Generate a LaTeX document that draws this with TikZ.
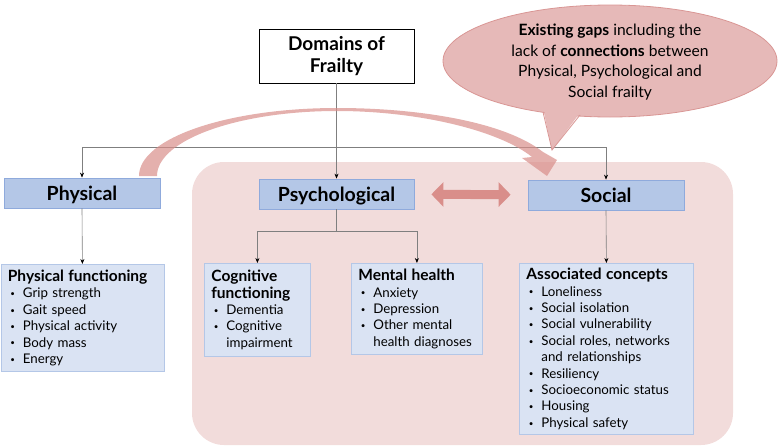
\documentclass[tikz,border=0pt]{standalone}
\usepackage{fontspec}
\setmainfont{Lato}
\usepackage{xcolor}
\usepackage{tikz}
\usetikzlibrary{arrows.meta}
\definecolor{headfill}{HTML}{B4C7E7}
\definecolor{headline}{HTML}{8FAADC}
\definecolor{listfill}{HTML}{DAE3F3}
\definecolor{listline}{HTML}{B4C7E7}
\definecolor{bgpink}{HTML}{F2DCDB}
\definecolor{callfill}{HTML}{E6B9B8}
\definecolor{callline}{HTML}{D99694}
\definecolor{arrowpink}{HTML}{D98E8A}
\definecolor{linkgray}{HTML}{7F7F7F}
\newcommand{\bul}[1]{\mbox{\makebox[15pt][l]{\hspace{2.5pt}\raisebox{1.2pt}{\fontsize{8}{8}\selectfont\textbullet}}#1}}
\newcommand{\cont}[1]{\mbox{\hspace*{15pt}#1}}
\newcommand{\ttl}[1]{{\fontsize{15.5}{18}\selectfont\bfseries #1}}

\begin{document}
\begin{tikzpicture}[x=1pt, y=-1pt, >={Stealth[black, length=5pt, width=4pt]}]
        \tikzstyle{head}=[draw=headline, fill=headfill, line width=0.8pt, minimum width=156pt, minimum height=30pt, text height=14pt, text depth=0pt, font=\fontsize{19.5}{21}\selectfont\bfseries]
        \tikzstyle{list}=[draw=listline, fill=listfill, line width=0.8pt, anchor=north west, align=left, inner xsep=7pt, font=\fontsize{13.3}{16.4}\selectfont]
        \tikzstyle{link}=[draw=linkgray, line width=0.6pt]
        \useasboundingbox (0,0) rectangle (778,447);
        \fill[bgpink, rounded corners=32pt] (192,162) rectangle (733,445);
        \node[draw=black, fill=white, line width=0.9pt, minimum width=155pt, minimum height=54pt, align=center, font=\fontsize{19}{22}\selectfont\bfseries] (dom) at (336.5,56) {Domains of\\Frailty};
        \node[head] (phy) at (82,193) {Physical};
        \node[head, minimum width=155pt] (psy) at (336.5,194) {Psychological};
        \node[head] (soc) at (606,195) {Social};
        \node[list, text width=149pt, minimum height=107pt] (phf) at (0.5,264) {\ttl{Physical functioning}\\ \bul{Grip strength}\\ \bul{Gait speed}\\ \bul{Physical activity}\\ \bul{Body mass}\\ \bul{Energy}};
        \node[list, text width=92pt, minimum height=93pt] (cog) at (204,263) {\ttl{Cognitive\\functioning}\\ \bul{Dementia}\\ \bul{Cognitive}\\ \cont{impairment}};
        \node[list, text width=117pt, minimum height=91pt] (men) at (351,263) {\ttl{Mental health}\\ \bul{Anxiety}\\ \bul{Depression}\\ \bul{Other mental}\\ \cont{health diagnoses}};
        \node[list, text width=160pt, minimum height=171pt] (aso) at (519,263) {\ttl{Associated concepts}\\ \bul{Loneliness}\\ \bul{Social isolation}\\ \bul{Social vulnerability}\\ \bul{Social roles, networks}\\ \cont{and relationships}\\ \bul{Resiliency}\\ \bul{Socioeconomic status}\\ \bul{Housing}\\ \bul{Physical safety}};
        \coordinate (hub) at (336.5,147);
        \draw[link, ->] (dom.south) -- (psy.north);
        \draw[link, ->] (hub) -| (phy.north);
        \draw[link, ->] (hub) -| (soc.north);
        \draw[link, ->] (phy.south) -- (phf.north);
        \draw[link, ->] (psy.south) -- ++(0,22) -| (cog.north);
        \draw[link, ->] (psy.south) -- ++(0,22) -| (men.north);
        \draw[link, ->] (soc.south) -- (aso.north);
        \draw[arrowpink, line width=9pt, shorten <=17pt, shorten >=17pt, {Triangle[length=12pt, width=24pt]}-{Triangle[length=12pt, width=24pt]}] (psy) -- (soc);
        \fill[arrowpink, opacity=0.7] (139,176) .. controls (139,138) and (228,108) .. (337,108) .. controls (420,108) and (505,122) .. (543,152) -- (557,160) -- (547,176) -- (522,158) -- (532,157) .. controls (500,131) and (420,111) .. (337,111) .. controls (238,111) and (157,140) .. (157,176) -- cycle;
        \fill[callfill] (543,108) -- (552,150) -- (582,110) -- cycle;
        \draw[callline, fill=callfill, line width=0.8pt] (610,61) ellipse [x radius=167, y radius=56];
        \fill[callfill] (544,110) -- (552,150) -- (580,112) -- cycle;
        \draw[callline, line width=0.8pt] (543,112) -- (552,150) -- (580,115);
        \node[align=center, font=\fontsize{15.6}{20.5}\selectfont] (gap) at (610,62) {\textbf{Existing gaps} including the\\lack of \textbf{connections} between\\Physical, Psychological and\\Social frailty};
\end{tikzpicture}
\end{document}
